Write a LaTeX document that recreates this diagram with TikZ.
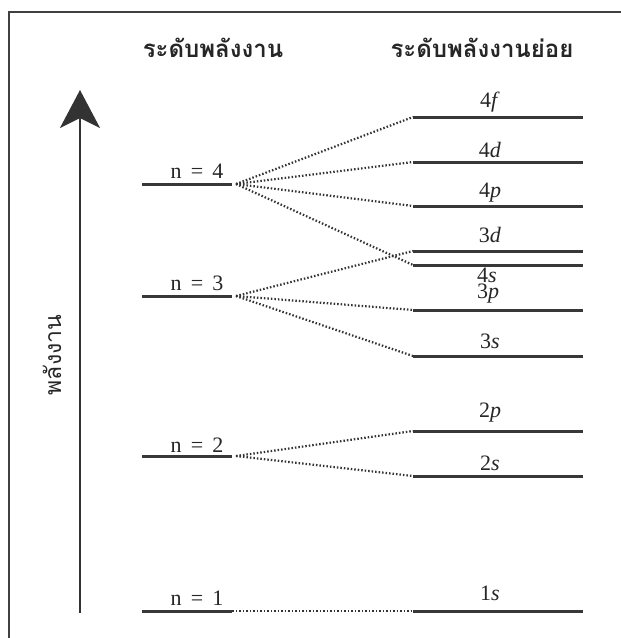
\documentclass[tikz,border=0pt]{standalone}
\usepackage{fontspec}
\setmainfont{Liberation Serif}
\newfontfamily\thaifont[Script=Thai]{Loma}
\usetikzlibrary{arrows.meta}
\begin{document}
\begin{tikzpicture}[x=1pt,y=-1pt,
  level/.style={line width=3pt,draw=black!78},
  conn/.style={line width=2.2pt,draw=black!80,dash pattern=on 1.5pt off 2pt},
  lab/.style={font=\fontsize{22}{22}\selectfont,inner sep=0pt,anchor=base,text=black!85},
  head/.style={font=\thaifont\bfseries\fontsize{24}{24}\selectfont,inner sep=0pt,anchor=base,text=black!85}]
\useasboundingbox (0,0) rectangle (621,638);
\fill[white] (0,0) rectangle (621,638);
% frame
\draw[line width=1.8pt,draw=black!75] (9,640) -- (9,12) -- (623,12);
% headers
\node[head] (h1) at (213,57) {ระดับพลังงาน};
\node[head] (h2) at (482,57) {ระดับพลังงานย่อย};
% energy axis
\coordinate (ax0) at (80,613);
\coordinate (ax1) at (80,90);
\draw[line width=2.8pt,draw=black!80,-{Stealth[length=38pt,width=40pt,inset=10pt]}] (ax0) -- (ax1);
\node[font=\thaifont\fontsize{23}{23}\selectfont,rotate=90,text=black!85,inner sep=0pt] (ylab) at (52,355) {พลังงาน};
% left levels
\foreach \n/\y/\b in {4/184/178,3/296/290,2/456/452,1/611/605}{
  \coordinate (n\n a) at (142,\y);
  \coordinate (n\n b) at (232,\y);
  \coordinate (n\n c) at (236,\y);
  \draw[level] (n\n a) -- (n\n b);
  \node[lab] (nl\n) at (197,\b) {n\hspace{0.42em}=\hspace{0.42em}\n};
}
% right levels
\foreach \s/\y in {4f/117,4d/162,4p/206,3d/251,4s/265,3p/310,3s/356,2p/431,2s/476,1s/611}{
  \coordinate (r\s a) at (413,\y);
  \coordinate (r\s b) at (583,\y);
  \draw[level] (r\s a) -- (r\s b);
}
\node[lab] (l4f) at (490,107) {4\textit{f}};
\node[lab] (l4d) at (490,157) {4\textit{d}};
\node[lab] (l4p) at (490,197) {4\textit{p}};
\node[lab] (l3d) at (490,242) {3\textit{d}};
\node[lab] (l4s) at (487,282) {4\textit{s}};
\node[lab] (l3p) at (488,298) {3\textit{p}};
\node[lab] (l3s) at (490,348) {3\textit{s}};
\node[lab] (l2p) at (490,417) {2\textit{p}};
\node[lab] (l2s) at (490,470) {2\textit{s}};
\node[lab] (l1s) at (490,600) {1\textit{s}};
% connectors
\foreach \s in {4f,4d,4p,4s}{\draw[conn] (n4c) -- (r\s a);}
\foreach \s in {3d,3p,3s}{\draw[conn] (n3c) -- (r\s a);}
\foreach \s in {2p,2s}{\draw[conn] (n2c) -- (r\s a);}
\draw[conn] (n1b) -- (r1sa);
\end{tikzpicture}
\end{document}
